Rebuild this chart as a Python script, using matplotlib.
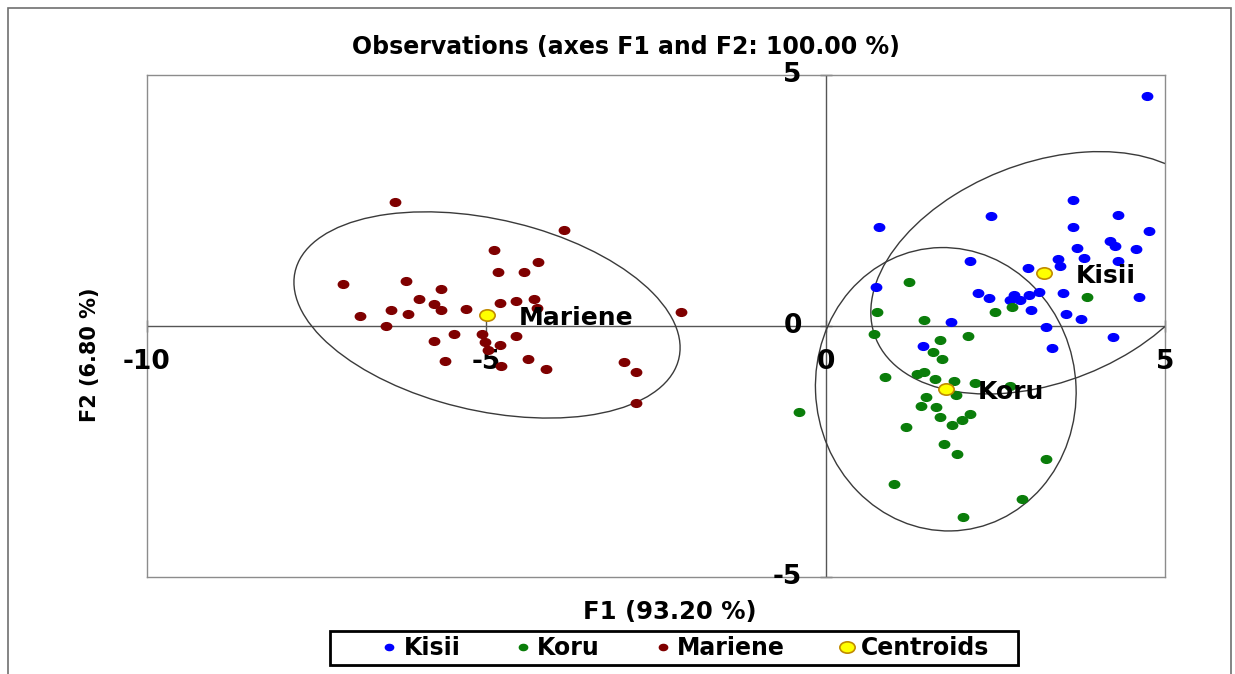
import numpy as np
import matplotlib
matplotlib.use("Agg")
import matplotlib.pyplot as plt
from matplotlib.patches import Ellipse, Rectangle
from matplotlib.path import Path
from matplotlib.transforms import Affine2D, offset_copy

plt.rcParams["font.family"] = ["DejaVu Sans"]
plt.rcParams["font.weight"] = "bold"

# observations (F1, F2)
kisii_x = [4.73, 3.65, 2.43, 4.31, 0.78, 3.65, 4.77, 4.19, 4.26, 3.71, 4.57, 3.80,
           3.43, 4.31, 2.12, 3.46, 2.98, 0.74, 2.25, 2.41, 2.77, 2.72, 2.87, 2.99,
           3.14, 3.50, 4.62, 3.03, 3.54, 3.76, 1.84, 3.24, 4.24, 1.44, 3.33]
kisii_y = [4.58, 2.51, 2.20, 2.21, 1.97, 1.97, 1.89, 1.69, 1.59, 1.56, 1.53, 1.35,
           1.33, 1.29, 1.29, 1.20, 1.15, 0.78, 0.66, 0.56, 0.62, 0.52, 0.52, 0.62,
           0.68, 0.66, 0.57, 0.32, 0.24, 0.13, 0.07, -0.01, -0.21, -0.39, -0.44]

koru_x = [1.23, 0.76, 2.49, 2.75, 1.45, 0.71, 1.69, 2.10, 1.58, 1.72, 0.87, 1.35,
          1.45, 1.61, 1.89, 2.20, 2.72, 1.48, 1.92, 1.41, 1.62, -0.40, 2.12, 1.69,
          2.01, 1.86, 1.19, 1.74, 1.93, 3.24, 1.01, 2.90, 2.03, 3.85]
koru_y = [0.87, 0.27, 0.28, 0.38, 0.12, -0.15, -0.27, -0.20, -0.51, -0.66, -1.01, -0.96,
          -0.92, -1.06, -1.09, -1.13, -1.20, -1.41, -1.37, -1.59, -1.61, -1.71, -1.75, -1.81,
          -1.87, -1.97, -2.01, -2.36, -2.55, -2.65, -3.15, -3.45, -3.80, 0.58]

mariene_x = [-6.34, -3.86, -4.89, -4.24, -4.83, -4.45, -7.11, -6.18, -5.67, -5.99, -5.77, -5.67,
             -6.40, -6.15, -6.86, -6.48, -5.30, -4.80, -4.56, -4.30, -4.25, -2.13, -5.48, -5.06,
             -4.57, -5.77, -5.02, -4.80, -4.97, -5.61, -4.78, -4.39, -4.12, -2.97, -2.80, -2.80]
mariene_y = [2.48, 1.91, 1.51, 1.27, 1.07, 1.07, 0.84, 0.90, 0.73, 0.54, 0.43, 0.31,
             0.32, 0.23, 0.20, 0.00, 0.34, 0.45, 0.50, 0.54, 0.35, 0.27, -0.15, -0.16,
             -0.19, -0.29, -0.31, -0.38, -0.48, -0.70, -0.79, -0.66, -0.86, -0.71, -0.91, -1.54]

groups = ["Kisii", "Koru", "Mariene"]
centroid_x = [3.21, 1.77, -4.99]
centroid_y = [1.06, -1.26, 0.22]

x_ticks = [-10, -5, 0, 5]
y_ticks = [-5, 0, 5]

COLORS = {"Kisii": "#0000ff", "Koru": "#0a7d0a", "Mariene": "#7f0000"}
CENTROID_FACE = "#ffff00"
CENTROID_EDGE = "#c08a00"
FRAME = "#8c8c8c"

# the source image is stretched sideways, so the dots are ovals
OVAL = Path.unit_circle().transformed(Affine2D().scale(1.35, 1.0))


def conf_ellipse(ax, xs, ys, cx, cy, k=2.4477):
    """95% ellipse from the group's covariance, around its centroid."""
    cov = np.cov(xs, ys)
    vals, vecs = np.linalg.eigh(cov)
    order = vals.argsort()[::-1]
    vals, vecs = vals[order], vecs[:, order]
    angle = np.degrees(np.arctan2(vecs[1, 0], vecs[0, 0]))
    w, h = 2 * k * np.sqrt(vals)
    ax.add_patch(Ellipse((cx, cy), w, h, angle=angle, facecolor="none",
                         edgecolor="#3a3a3a", linewidth=1.0, zorder=2))


fig = plt.figure(figsize=(12.35, 6.74), dpi=100)
ax = fig.add_axes([147 / 1235, 1 - 577 / 674, (1165 - 147) / 1235, (577 - 75) / 674])
ax.set_xlim(-10, 5)
ax.set_ylim(-5, 5)
ax.set_xticks([]); ax.set_yticks([])
for sp in ax.spines.values():
    sp.set_color(FRAME)
    sp.set_linewidth(1.0)

# axes through the origin
ax.axhline(0, color="#555555", lw=1.0, zorder=1)
ax.axvline(0, color="#555555", lw=1.0, zorder=1)
ax.plot(x_ticks, [0] * len(x_ticks), ls="none", marker="|", ms=9, mew=1.0,
        color="#555555", clip_on=False, zorder=1)
ax.plot([0] * len(y_ticks), y_ticks, ls="none", marker="_", ms=9, mew=1.0,
        color="#555555", clip_on=False, zorder=1)
lbl_below = offset_copy(ax.transData, fig=fig, x=0, y=-36, units="dots")
for t in x_ticks:
    ax.text(t, 0, f"{t}", transform=lbl_below, ha="center", va="center",
            fontsize=19, fontweight="bold")
lbl_left = offset_copy(ax.transData, fig=fig, x=-24, y=0, units="dots")
for t in y_ticks:
    ax.text(0, t, f"{t}", transform=lbl_left, ha="right", va="center",
            fontsize=19, fontweight="bold")

series = {"Kisii": (kisii_x, kisii_y), "Koru": (koru_x, koru_y),
          "Mariene": (mariene_x, mariene_y)}
for i, name in enumerate(groups):
    xs, ys = series[name]
    ax.plot(xs, ys, ls="none", marker=OVAL, ms=7.5, color=COLORS[name],
            mec=COLORS[name], zorder=3)
    conf_ellipse(ax, xs, ys, centroid_x[i], centroid_y[i])

ax.plot(centroid_x, centroid_y, ls="none", marker=OVAL, ms=11, mfc=CENTROID_FACE,
        mec=CENTROID_EDGE, mew=1.2, zorder=4)
lbl_right = offset_copy(ax.transData, fig=fig, x=32, y=-3, units="dots")
for i, name in enumerate(groups):
    ax.text(centroid_x[i], centroid_y[i], name, transform=lbl_right, ha="left",
            va="center", fontsize=18, fontweight="bold", zorder=5)

fig.text(626 / 1235, 1 - 47 / 674, "Observations (axes F1 and F2: 100.00 %)",
         ha="center", va="center", fontsize=17, fontweight="bold")
fig.text(670 / 1235, 1 - 612 / 674, "F1 (93.20 %)", ha="center", va="center",
         fontsize=17.5, fontweight="bold")
fig.text(90 / 1235, 1 - 355 / 674, "F2 (6.80 %)", ha="center", va="center",
         rotation=90, fontsize=15, fontweight="bold")

# legend (frame drawn separately, it is wider than the entries)
handles = []
for name in groups:
    h, = ax.plot([], [], ls="none", marker=OVAL, ms=6, color=COLORS[name], label=name)
    handles.append(h)
h, = ax.plot([], [], ls="none", marker=OVAL, ms=11, mfc=CENTROID_FACE,
             mec=CENTROID_EDGE, mew=1.2, label="Centroids")
handles.append(h)
fig.legend(handles=handles, loc="center", ncol=4,
           bbox_to_anchor=(686 / 1235, 1 - 648 / 674), frameon=False,
           prop={"size": 17, "weight": "bold"}, handletextpad=0.3,
           columnspacing=2.35, handlelength=0.6, borderpad=0.2)
fig.patches.append(Rectangle((332 / 1235, 1 - 667 / 674), 688 / 1235, 34 / 674,
                             transform=fig.transFigure, facecolor="#b0b0b0",
                             edgecolor="none", zorder=0))
fig.patches.append(Rectangle((330 / 1235, 1 - 665 / 674), 688 / 1235, 34 / 674,
                             transform=fig.transFigure, facecolor="white",
                             edgecolor="black", linewidth=2.0, zorder=1))

# outer frame of the figure
fig.patches.append(Rectangle((8 / 1235, -0.1), (1231 - 8) / 1235, 1.1 - 8 / 674,
                             transform=fig.transFigure, fill=False,
                             edgecolor="#707070", linewidth=1.2))

fig.savefig("out.png", dpi=100)
